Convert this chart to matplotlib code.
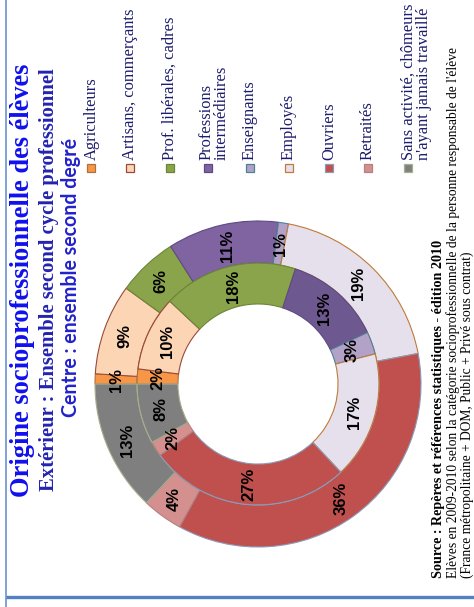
import matplotlib
matplotlib.use('Agg')
import matplotlib.pyplot as plt
from matplotlib.patches import Rectangle

W, H = 474, 607

# ---------------- data ----------------
categories = ["Agriculteurs", "Artisans, commerçants", "Prof. libérales, cadres",
              "Professions\nintermédiaires", "Enseignants", "Employés", "Ouvriers",
              "Retraités", "Sans activité, chômeurs\nn'ayant jamais travaillé"]
outer_values = [1, 9, 6, 11, 1, 19, 36, 4, 13]   # Extérieur : ensemble second cycle professionnel
inner_values = [2, 10, 18, 13, 3, 17, 27, 2, 8]  # Centre : ensemble second degré

title = "Origine socioprofessionnelle des élèves"
subtitle1 = "Extérieur : Ensemble second cycle professionnel"
subtitle2 = "Centre : ensemble second degré"
source_lines = ["Source : Repères et références statistiques - édition 2010",
                "Elèves en 2009-2010 selon la catégorie socioprofessionnelle de la personne responsable de l'élève",
                "(France métropolitaine + DOM, Public + Privé sous contrat)"]

# ---------------- styles ----------------
colors_outer = ['#f79646', '#fcd5b5', '#8aa44c', '#8064a2', '#b3a2c7',
                '#e6e0ec', '#c0504d', '#d4908e', '#7f7f7f']
colors_inner = ['#f79646', '#fcd5b5', '#8aa44c', '#6e5890', '#b3a2c7',
                '#e6e0ec', '#c0504d', '#d4908e', '#7f7f7f']
edge_colors = ['#b0703a', '#9a4a3a', '#6d8538', '#5e4a82', '#4f8096',
               '#c07a3a', '#8a9ab8', '#b48080', '#a4b090']

fig = plt.figure(figsize=(W / 100, H / 100), dpi=100)
fig.patch.set_facecolor('white')

bg = fig.add_axes([0, 0, 1, 1])
bg.set_xlim(0, W)
bg.set_ylim(H, 0)
bg.axis('off')

# frame lines of the slide
bg.plot([6, 6], [0, H], color='#7fa2d5', lw=1.4, solid_capstyle='butt')
bg.plot([6, W], [597, 597], color='#5181c2', lw=2.4, solid_capstyle='butt')

# ---------------- donut ----------------
cx, cy, R = 258, 384, 163
pax = fig.add_axes([(cx - R) / W, (H - cy - R) / H, 2 * R / W, 2 * R / H])
tp = dict(rotation=90, fontsize=12, fontweight='bold', family='Liberation Sans', color='black')
wo, _, _ = pax.pie(outer_values, radius=1.0, colors=colors_outer, startangle=180,
                   counterclock=False, wedgeprops=dict(width=0.258, linewidth=0.8),
                   autopct='%.0f%%', pctdistance=0.871, textprops=tp)
wi, _, _ = pax.pie(inner_values, radius=0.742, colors=colors_inner, startangle=180,
                   counterclock=False, wedgeprops=dict(width=0.251, linewidth=0.8),
                   autopct='%.0f%%', pctdistance=0.831, textprops=tp)
for w, ec in zip(wo, edge_colors):
    w.set_edgecolor(ec)
for w, ec in zip(wi, edge_colors):
    w.set_edgecolor(ec)
pax.set_xlim(-1, 1)
pax.set_ylim(-1, 1)
pax.set_aspect('equal')
pax.axis('off')

renderer = fig.canvas.get_renderer()


def fit(t, length):
    for _ in range(2):
        bb = t.get_window_extent(renderer)
        t.set_fontsize(t.get_fontsize() * length / bb.height)


# ---------------- titles ----------------
t1 = bg.text(23, 280, title, rotation=90, ha='center', va='center', color='#1010ee',
             family='Liberation Serif', fontweight='bold', fontsize=16)
fit(t1, 435)
t2 = bg.text(49, 280, subtitle1, rotation=90, ha='center', va='center', color='#2323b0',
             family='Liberation Serif', fontweight='bold', fontsize=12)
fit(t2, 424)
t3 = bg.text(71, 277.5, subtitle2, rotation=90, ha='center', va='center', color='#2222cc',
             family='Lato', fontweight='bold', fontsize=12)
fit(t3, 279)

# ---------------- legend ----------------
text_x = [92, 130, 170, 214, 250, 289, 329, 368, 416]
mark_x = [91, 130, 170, 208, 250, 289, 329, 368, 408]
leg_color = '#1c1c6e'
probe = bg.text(0, 0, categories[1], rotation=90, family='Liberation Serif', fontsize=10)
fit(probe, 152)
leg_fs = probe.get_fontsize()
probe.remove()
for lab, tx, mx, fc, ec in zip(categories, text_x, mark_x, colors_outer, edge_colors):
    bg.text(tx, 160, lab, rotation=90, ha='center', va='bottom', multialignment='left',
            family='Liberation Serif', fontsize=leg_fs, color=leg_color, linespacing=0.95)
    bg.add_patch(Rectangle((mx - 4, 164), 8, 8, facecolor=fc, edgecolor=ec, lw=0.9))

# ---------------- source ----------------
s1 = bg.text(439, 578, source_lines[0], rotation=90, ha='center', va='bottom',
             family='Liberation Serif', fontweight='bold', fontsize=9, color='black')
fit(s1, 340)
s2 = bg.text(453, 578, source_lines[1], rotation=90, ha='center', va='bottom',
             family='Liberation Serif', fontsize=9, color='black')
fit(s2, 530)
s3 = bg.text(467, 578, source_lines[2], rotation=90, ha='center', va='bottom',
             family='Liberation Serif', fontsize=s2.get_fontsize(), color='black')

fig.savefig('out.png', dpi=100, facecolor='white')
